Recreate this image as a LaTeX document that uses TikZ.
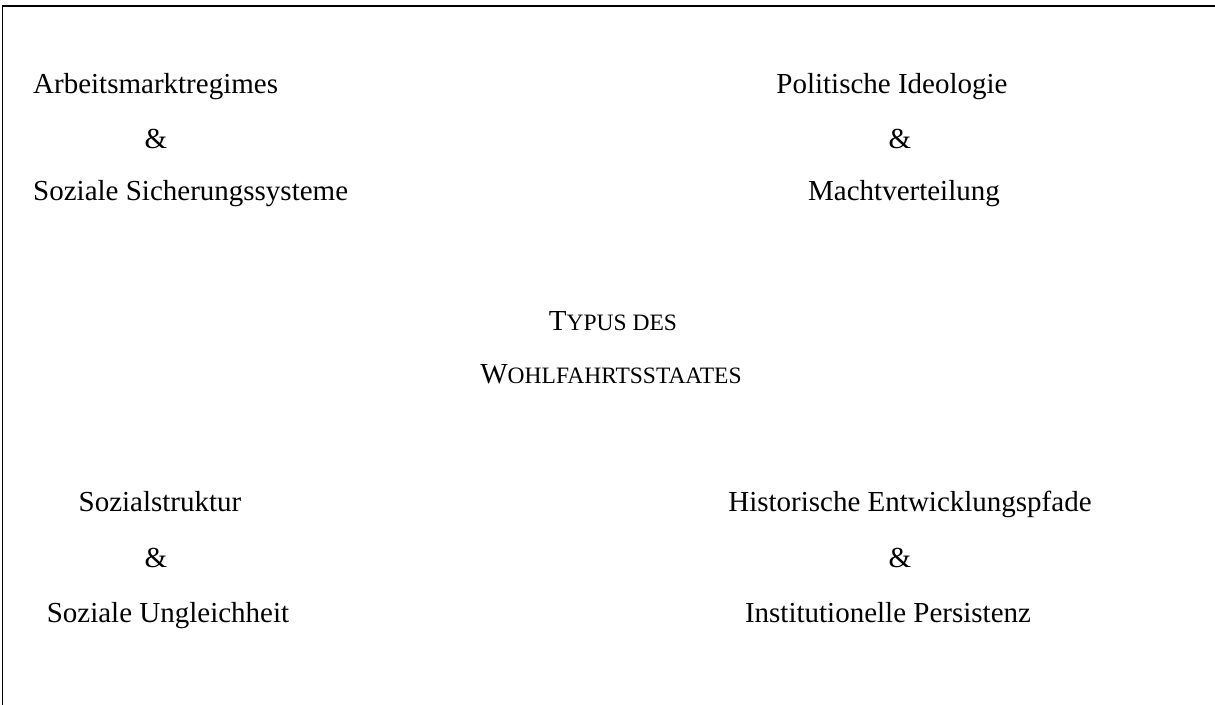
\documentclass[tikz,border=0pt]{standalone}
\usepackage{fontspec}
\setmainfont{Liberation Serif}
\newcommand{\scfont}{\fontsize{23.5}{28}\selectfont}
\begin{document}
\begin{tikzpicture}[x=1pt,y=-1pt,
  lbl/.style={inner sep=0pt,anchor=base,font=\fontsize{29}{34}\selectfont},
  lblw/.style={lbl,anchor=base west},
  frame/.style={line width=1.8pt,black}]
\useasboundingbox (0,0) rectangle (1215,704);
\coordinate (fb) at (2.5,710);
\coordinate (fc) at (2.5,5.7);
\coordinate (fr) at (1220,5.7);
\draw[frame] (fb) -- (fc) -- (fr);
% top left
\node[lblw] (a1) at (33,93) {Arbeitsmarktregimes};
\node[lbl] (a2) at (156,148) {\&};
\node[lblw] (a3) at (33,200) {Soziale Sicherungssysteme};
% top right
\node[lbl] (b1) at (892,93) {Politische Ideologie};
\node[lbl] (b2) at (900,148) {\&};
\node[lbl] (b3) at (904,200) {Machtverteilung};
% centre
\node[lbl] (c1) at (613,330) {T{\scfont YPUS DES}};
\node[lbl] (c2) at (611,383) {W{\scfont OHLFAHRTSSTAATES}};
% bottom left
\node[lbl] (d1) at (160,511) {Sozialstruktur};
\node[lbl] (d2) at (156,567) {\&};
\node[lbl] (d3) at (168,622) {Soziale Ungleichheit};
% bottom right
\node[lbl] (e1) at (910,511) {Historische Entwicklungspfade};
\node[lbl] (e2) at (900,567) {\&};
\node[lbl] (e3) at (888,622) {Institutionelle Persistenz};
\end{tikzpicture}
\end{document}
